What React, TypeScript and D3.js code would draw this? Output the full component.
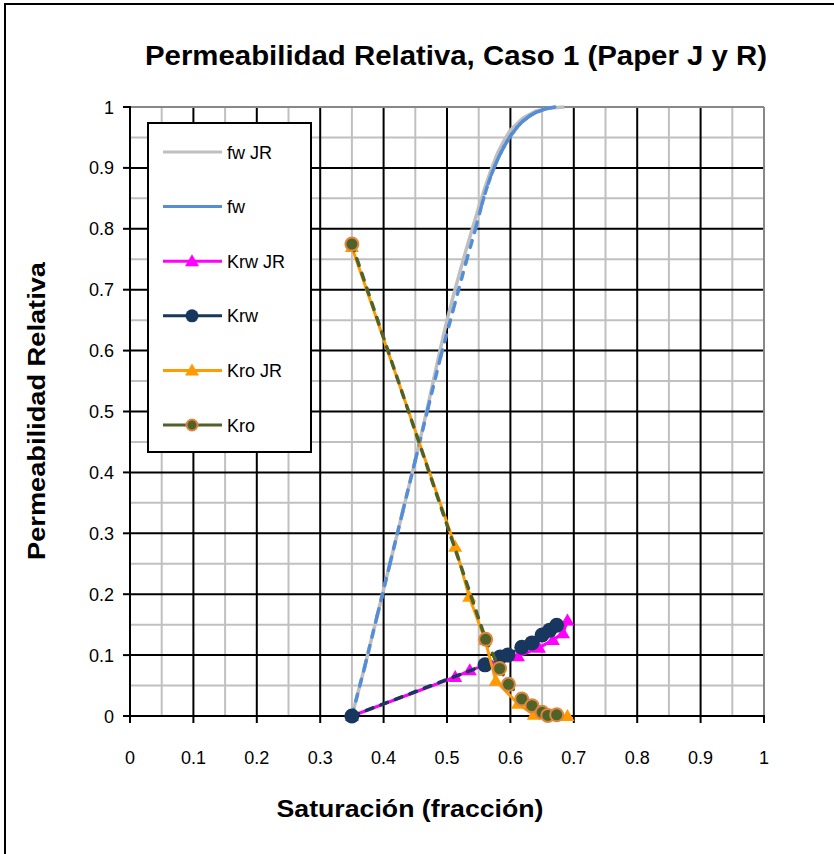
import React from "react";
import * as d3 from "d3";

// Saturacion (Sw) vs fw, JR paper
const fwJRSw = [0.35, 0.37, 0.39, 0.41, 0.43, 0.45, 0.47, 0.49, 0.5, 0.51, 0.52, 0.53, 0.54, 0.55, 0.56, 0.57, 0.58, 0.59, 0.6, 0.62, 0.64, 0.66, 0.685];
const fwJRVal = [0, 0.08, 0.165, 0.25, 0.335, 0.42, 0.51, 0.605, 0.65, 0.69, 0.728, 0.765, 0.8, 0.835, 0.868, 0.898, 0.925, 0.945, 0.962, 0.982, 0.993, 0.998, 1.0];

// fw calculated
const fwSw = [0.35, 0.37, 0.39, 0.41, 0.43, 0.45, 0.47, 0.49, 0.51, 0.53, 0.545, 0.555, 0.56, 0.565, 0.57, 0.575, 0.58, 0.585, 0.59, 0.595, 0.6, 0.605, 0.61, 0.615, 0.62, 0.625, 0.63, 0.635, 0.64, 0.645, 0.65, 0.655, 0.66, 0.665, 0.67];
const fwVal = [0, 0.08, 0.165, 0.25, 0.335, 0.42, 0.505, 0.59, 0.668, 0.745, 0.8, 0.84, 0.858, 0.874, 0.889, 0.902, 0.914, 0.925, 0.935, 0.944, 0.952, 0.959, 0.966, 0.972, 0.977, 0.981, 0.985, 0.988, 0.991, 0.993, 0.995, 0.997, 0.998, 0.999, 1.0];

const krwJRSw = [0.35, 0.513, 0.536, 0.58, 0.612, 0.645, 0.667, 0.683, 0.69];
const krwJRVal = [0, 0.064, 0.075, 0.09, 0.098, 0.112, 0.125, 0.136, 0.157];

const krwSw = [0.35, 0.56, 0.584, 0.596, 0.618, 0.634, 0.65, 0.662, 0.673];
const krwVal = [0, 0.084, 0.097, 0.1, 0.113, 0.12, 0.133, 0.141, 0.149];

const kroJRSw = [0.35, 0.513, 0.535, 0.56, 0.577, 0.612, 0.637, 0.662, 0.69];
const kroJRVal = [0.77, 0.278, 0.196, 0.125, 0.058, 0.02, 0.002, 0, 0];

const kroSw = [0.35, 0.561, 0.583, 0.597, 0.618, 0.634, 0.65, 0.659, 0.673];
const kroVal = [0.775, 0.126, 0.078, 0.052, 0.028, 0.017, 0.006, 0.001, 0.002];

const ticks = [0, 0.1, 0.2, 0.3, 0.4, 0.5, 0.6, 0.7, 0.8, 0.9, 1];
const minorTicks = [0.05, 0.15, 0.25, 0.35, 0.45, 0.55, 0.65, 0.75, 0.85, 0.95];

const legendNames = ["fw JR", "fw", "Krw JR", "Krw", "Kro JR", "Kro"];

const FONT = "'Liberation Sans', Arial, sans-serif";

const zip = (xs: number[], ys: number[]) => xs.map((x, i) => [x, ys[i]] as [number, number]);

export default function App() {
  const width = 834;
  const height = 854;
  const x = d3.scaleLinear().domain([0, 1]).range([130, 764]);
  const y = d3.scaleLinear().domain([0, 1]).range([716, 107]);
  const line = d3.line<[number, number]>().x((d) => x(d[0])).y((d) => y(d[1]));

  // Excel restarts the dash pattern on every segment
  const dashedSegments = (pts: [number, number][], color: string, key: string) =>
    pts.slice(1).map((p, i) => (
      <path
        key={key + i}
        d={line([pts[i], p]) || ""}
        fill="none"
        stroke={color}
        strokeWidth={3.5}
        strokeDasharray="7,8.5"
        strokeLinecap="round"
      />
    ));

  const tri = (cx: number, cy: number, color: string, k: string) => (
    <path key={k} d={`M${cx},${cy - 7} L${cx + 7},${cy + 5} L${cx - 7},${cy + 5} Z`} fill={color} />
  );

  const fwJR = zip(fwJRSw, fwJRVal);
  const fw = zip(fwSw, fwVal);
  const krwJR = zip(krwJRSw, krwJRVal);
  const krw = zip(krwSw, krwVal);
  const kroJR = zip(kroJRSw, kroJRVal);
  const kro = zip(kroSw, kroVal);

  const legendY = (i: number) => 152 + i * 54.6;

  return (
    <svg width={width} height={height} style={{ position: "absolute", left: 0, top: 0, background: "#fff" }}>
      <rect x={5} y={4} width={900} height={900} fill="#fff" stroke="#000" strokeWidth={2} />
      <text
        x={456}
        y={65}
        textAnchor="middle"
        fontFamily={FONT}
        fontWeight="bold"
        fontSize={27}
        textLength={622}
        lengthAdjust="spacingAndGlyphs"
      >
        Permeabilidad Relativa, Caso 1 (Paper J y R)
      </text>

      {/* minor grid */}
      {minorTicks.map((t) => (
        <g key={"m" + t}>
          <line x1={x(t)} x2={x(t)} y1={y(0)} y2={y(1)} stroke="#c0c0c0" strokeWidth={2} />
          <line x1={x(0)} x2={x(1)} y1={y(t)} y2={y(t)} stroke="#c0c0c0" strokeWidth={2} />
        </g>
      ))}
      {/* major grid */}
      {ticks.slice(1, -1).map((t) => (
        <g key={"M" + t}>
          <line x1={x(t)} x2={x(t)} y1={y(0)} y2={y(1)} stroke="#000" strokeWidth={2} />
          <line x1={x(0)} x2={x(1)} y1={y(t)} y2={y(t)} stroke="#000" strokeWidth={2} />
        </g>
      ))}
      <line x1={x(0)} x2={x(1)} y1={y(1)} y2={y(1)} stroke="#888" strokeWidth={2} />
      <line x1={x(1)} x2={x(1)} y1={y(0)} y2={y(1)} stroke="#888" strokeWidth={2} />
      {/* axes */}
      <line x1={x(0)} x2={x(0)} y1={y(0) + 1} y2={y(1) - 1} stroke="#000" strokeWidth={2} />
      <line x1={x(0) - 1} x2={x(1) + 1} y1={y(0)} y2={y(0)} stroke="#000" strokeWidth={2} />
      {ticks.map((t) => (
        <g key={"t" + t}>
          <line x1={x(t)} x2={x(t)} y1={y(0)} y2={y(0) + 7} stroke="#000" strokeWidth={2} />
          <line x1={x(0) - 7} x2={x(0)} y1={y(t)} y2={y(t)} stroke="#000" strokeWidth={2} />
          <text x={x(t)} y={764} textAnchor="middle" fontFamily={FONT} fontSize={18}>
            {t}
          </text>
          <text x={114} y={y(t) + 6.5} textAnchor="end" fontFamily={FONT} fontSize={18}>
            {t}
          </text>
        </g>
      ))}

      {/* series, in Excel order */}
      <path d={line(fwJR) || ""} fill="none" stroke="#bfbfbf" strokeWidth={3.5} />
      {dashedSegments(fw, "#558ed5", "fw")}

      <path d={line(krwJR) || ""} fill="none" stroke="#ff00ff" strokeWidth={3} />
      {krwJR.map((p, i) => tri(x(p[0]), y(p[1]), "#ff00ff", "kj" + i))}

      {dashedSegments(krw, "#17375e", "krw")}
      {krw.map((p, i) => (
        <circle key={"kw" + i} cx={x(p[0])} cy={y(p[1])} r={7.5} fill="#17375e" />
      ))}

      <path d={line(kroJR) || ""} fill="none" stroke="#ff9a00" strokeWidth={3} />
      {kroJR.map((p, i) => tri(x(p[0]), y(p[1]), "#ff9a00", "oj" + i))}

      {dashedSegments(kro, "#4f6228", "kro")}
      {kro.map((p, i) => (
        <circle key={"ko" + i} cx={x(p[0])} cy={y(p[1])} r={6.5} fill="#4f6228" stroke="#e0853e" strokeWidth={2} />
      ))}

      {/* legend */}
      <rect x={148} y={123} width={163} height={329} fill="#fff" stroke="#000" strokeWidth={2} />
      {legendNames.map((name, i) => {
        const ly = legendY(i);
        const colors = ["#bfbfbf", "#558ed5", "#ff00ff", "#17375e", "#ff9a00", "#4f6228"];
        return (
          <g key={name}>
            <line x1={163} x2={222} y1={ly} y2={ly} stroke={colors[i]} strokeWidth={3} />
            {(i === 2 || i === 4) && tri(192, ly, colors[i], "lt" + i)}
            {i === 3 && <circle cx={192} cy={ly} r={6.5} fill="#17375e" />}
            {i === 5 && <circle cx={192} cy={ly} r={5.5} fill="#4f6228" stroke="#e0853e" strokeWidth={2} />}
            <text x={227} y={ly + 6.5} fontFamily={FONT} fontSize={18}>
              {name}
            </text>
          </g>
        );
      })}

      <text
        x={410}
        y={817}
        textAnchor="middle"
        fontFamily={FONT}
        fontWeight="bold"
        fontSize={23}
        textLength={267}
        lengthAdjust="spacingAndGlyphs"
      >
        Saturación (fracción)
      </text>
      <text
        transform="translate(45,411) rotate(-90)"
        textAnchor="middle"
        fontFamily={FONT}
        fontWeight="bold"
        fontSize={23}
        textLength={298}
        lengthAdjust="spacingAndGlyphs"
      >
        Permeabilidad Relativa
      </text>
    </svg>
  );
}
